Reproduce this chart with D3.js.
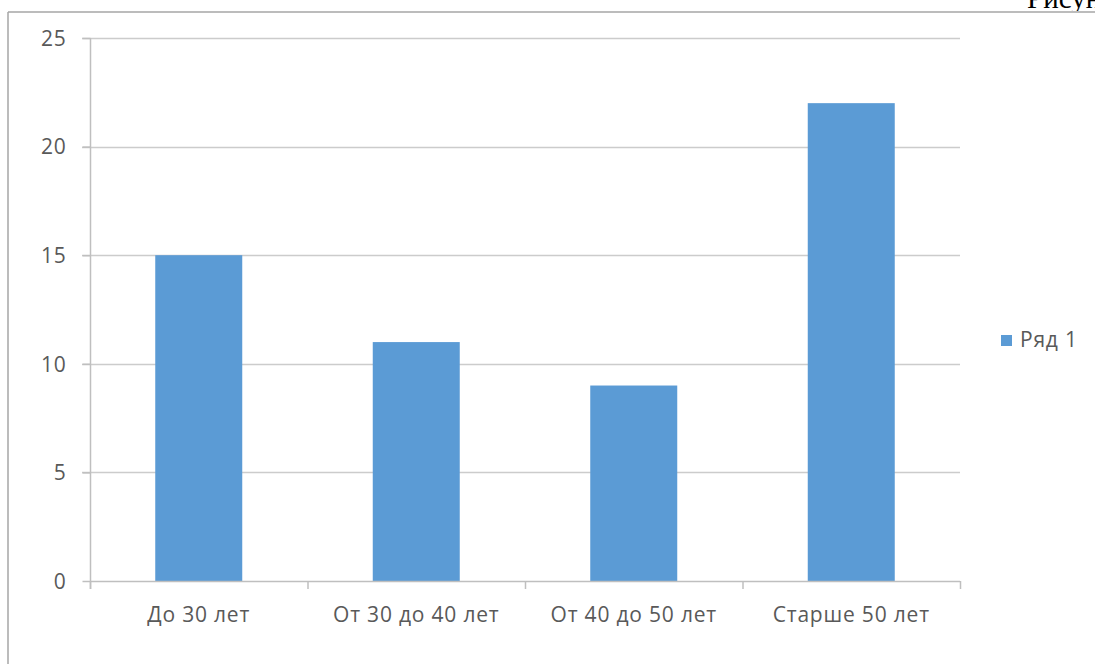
<!DOCTYPE html>
<html><head><meta charset="utf-8">
<script src="https://cdn.jsdelivr.net/npm/d3@7"></script>
<style>
html,body{margin:0;padding:0;background:#fff;overflow:hidden;}
</style></head>
<body>
<svg id="chart" width="1095" height="664"></svg>
<script>
const categories = ["До 30 лет", "От 30 до 40 лет", "От 40 до 50 лет", "Старше 50 лет"];
const values = [15, 11, 9, 22];
const yTicks = [0, 5, 10, 15, 20, 25];
const seriesName = "Ряд 1";
const captionText = "Рисунок";

const svg = d3.select("#chart");
const font = "'Open Sans', sans-serif";
const textColor = "#595959";
const fs = 21;
const ls = "0.8px";

// caption, clipped at top like the reference page
svg.append("clipPath").attr("id", "capclip").append("rect")
  .attr("x", 0).attr("y", 0).attr("width", 1095).attr("height", 11);
svg.append("text").attr("x", 1027).attr("y", 8).text(captionText)
  .attr("clip-path", "url(#capclip)")
  .attr("font-family", "'Liberation Serif', serif").attr("font-size", 29).attr("fill", "#000");

// frame
svg.append("line").attr("x1", 8).attr("x2", 1095).attr("y1", 12).attr("y2", 12)
  .attr("stroke", "#a6a6a6").attr("stroke-width", 1.5);
svg.append("line").attr("x1", 8).attr("x2", 8).attr("y1", 12).attr("y2", 664)
  .attr("stroke", "#a6a6a6").attr("stroke-width", 1.5);

const pLeft = 90, pRight = 960, pTop = 38, pBottom = 581;
const x = d3.scaleBand().domain(categories).range([pLeft, pRight]).paddingInner(0.6).paddingOuter(0.3);
const y = d3.scaleLinear().domain([0, 25]).range([pBottom, pTop]);

// gridlines
svg.append("g").selectAll("line").data(yTicks.filter(d => d > 0)).join("line")
  .attr("x1", pLeft - 8).attr("x2", pRight)
  .attr("y1", d => Math.round(y(d)) + 0.5).attr("y2", d => Math.round(y(d)) + 0.5)
  .attr("stroke", "#cccccc").attr("stroke-width", 1.5);

// bars
svg.append("g").selectAll("rect").data(values).join("rect")
  .attr("x", (d, i) => x(categories[i]))
  .attr("width", x.bandwidth())
  .attr("y", d => y(d))
  .attr("height", d => y(0) - y(d))
  .attr("fill", "#5b9bd5");

// y axis
const yAxis = d3.axisLeft(y).tickValues(yTicks).tickSize(8).tickPadding(16);
const gy = svg.append("g").attr("transform", `translate(${pLeft + 0.5},0)`).call(yAxis);
gy.select(".domain").attr("stroke", "#bfbfbf").attr("stroke-width", 1.5).attr("d", `M0,${pTop}V${pBottom + 8}`);
gy.selectAll(".tick line").attr("stroke", "#bfbfbf").attr("stroke-width", 1.5);
gy.selectAll(".tick text").attr("font-family", font).attr("font-size", fs).attr("fill", textColor)
  .attr("letter-spacing", ls).attr("dy", "0.35em");

// x axis
const bandEdges = d3.range(categories.length + 1).map(i => pLeft + i * (pRight - pLeft) / categories.length);
const gx = svg.append("g");
gx.append("line").attr("x1", pLeft).attr("x2", pRight).attr("y1", pBottom + 0.5).attr("y2", pBottom + 0.5)
  .attr("stroke", "#bfbfbf").attr("stroke-width", 1.5);
gx.selectAll("line.tk").data(bandEdges).join("line").attr("class", "tk")
  .attr("x1", d => d + 0.5).attr("x2", d => d + 0.5).attr("y1", pBottom).attr("y2", pBottom + 8)
  .attr("stroke", "#bfbfbf").attr("stroke-width", 1.5);
gx.selectAll("text").data(categories).join("text")
  .attr("x", d => x(d) + x.bandwidth() / 2).attr("y", 622)
  .attr("text-anchor", "middle").attr("font-family", font).attr("font-size", fs).attr("fill", textColor)
  .attr("letter-spacing", ls)
  .text(d => d);

// legend
const lg = svg.append("g");
lg.append("rect").attr("x", 1001).attr("y", 335).attr("width", 11).attr("height", 11).attr("fill", "#5b9bd5");
lg.append("text").attr("x", 1020).attr("y", 347).attr("font-family", font).attr("font-size", fs)
  .attr("letter-spacing", ls).attr("fill", textColor).text(seriesName);
</script>
</body></html>
